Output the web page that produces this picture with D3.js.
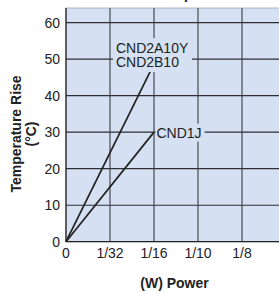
<!DOCTYPE html>
<html><head><meta charset="utf-8">
<script src="https://cdn.jsdelivr.net/npm/d3@7"></script>
<style>html,body{margin:0;padding:0;background:#fff}svg{display:block}</style>
</head><body>
<script>
// ---- data ----
const categories = ["0", "1/32", "1/16", "1/10", "1/8"];
const yTicks = [0, 10, 20, 30, 40, 50, 60];
const cnd2Names = ["CND2A10Y", "CND2B10"];
const cnd2X = [0, 1.93];   // position on category axis (index units)
const cnd2Y = [0, 47];
const cnd1Name = "CND1J";
const cnd1X = [0, 2];
const cnd1Y = [0, 30];

const W = 279, H = 292;
const m = {left: 66, top: 8, bottom: 241.7};
const svg = d3.select("body").append("svg").attr("width", W).attr("height", H);

const x = d3.scaleLinear().domain([0, 1]).range([m.left, m.left + 44]);
const y = d3.scaleLinear().domain([0, 64]).range([m.bottom, m.top]);
const bg = "#d5e1f2";
const font = "Arial, 'Liberation Sans', Helvetica, sans-serif";

// cut-off title descender (title lies above the visible area)
svg.append("text").attr("x", 184).attr("y", -1).attr("font-family", font)
  .attr("font-weight", "bold").attr("font-size", 14).attr("fill", "#222").text("p");

// plot background
svg.append("rect").attr("x", m.left).attr("y", m.top).attr("width", W - m.left + 5)
  .attr("height", m.bottom - m.top).attr("fill", bg).attr("stroke", "#9aa4b4").attr("stroke-width", 0.8);

const g = svg.append("g");
// horizontal grid
g.selectAll("line.h").data(yTicks.slice(1)).join("line")
  .attr("x1", m.left).attr("x2", W + 5)
  .attr("y1", d => y(d)).attr("y2", d => y(d))
  .attr("stroke", "#2e2e33").attr("stroke-width", 1.1);
// vertical grid
const vIdx = d3.range(1, 6);
g.selectAll("line.v").data(vIdx).join("line")
  .attr("x1", d => x(d)).attr("x2", d => x(d))
  .attr("y1", m.top).attr("y2", m.bottom)
  .attr("stroke", "#3a3d45").attr("stroke-width", 1.1);

// axes lines
svg.append("line").attr("x1", m.left).attr("x2", m.left).attr("y1", m.top).attr("y2", m.bottom)
  .attr("stroke", "#222").attr("stroke-width", 1.3);
svg.append("line").attr("x1", m.left).attr("x2", W + 5).attr("y1", m.bottom).attr("y2", m.bottom)
  .attr("stroke", "#222").attr("stroke-width", 1.3);

// y tick labels
svg.selectAll("text.yt").data(yTicks).join("text")
  .attr("x", m.left - 6).attr("y", d => y(d) + 5)
  .attr("text-anchor", "end").attr("font-family", font).attr("font-size", 14).attr("fill", "#222")
  .text(d => d);
// x tick labels
svg.selectAll("text.xt").data(categories).join("text")
  .attr("x", (d, i) => x(i)).attr("y", 257.5)
  .attr("text-anchor", "middle").attr("font-family", font).attr("font-size", 14).attr("fill", "#222")
  .text(d => d);

// axis titles
svg.append("text").attr("x", 174.5).attr("y", 288).attr("text-anchor", "middle")
  .attr("font-family", font).attr("font-weight", "bold").attr("font-size", 14).attr("fill", "#222")
  .text("(W) Power");
const yt = svg.append("text").attr("transform", "translate(21,134) rotate(-90)")
  .attr("text-anchor", "middle").attr("font-family", font).attr("font-weight", "bold")
  .attr("font-size", 14).attr("fill", "#222");
yt.append("tspan").attr("x", 0).attr("dy", 0).text("Temperature Rise");
yt.append("tspan").attr("x", 0).attr("dy", 14.5).text("(°C)");

// lines
const line = d3.line().x(d => x(d[0])).y(d => y(d[1]));
svg.append("path").datum(cnd2X.map((v, i) => [v, cnd2Y[i]])).attr("d", line)
  .attr("fill", "none").attr("stroke", "#222").attr("stroke-width", 1.7);
svg.append("path").datum(cnd1X.map((v, i) => [v, cnd1Y[i]])).attr("d", line)
  .attr("fill", "none").attr("stroke", "#222").attr("stroke-width", 1.7);

// labels with background boxes
const endA = [x(cnd2X[1]), y(cnd2Y[1])];
const labA = svg.append("g");
const boxA = labA.append("rect").attr("fill", bg);
const tA = labA.append("text").attr("font-family", font).attr("font-size", 14).attr("fill", "#222");
cnd2Names.forEach((n, i) => {
  tA.append("tspan").attr("x", endA[0] - 35).attr("y", endA[1] - 17 + i * 14).text(n);
});
const bbA = labA.node().getBBox();
boxA.attr("x", bbA.x - 3).attr("y", bbA.y - 2).attr("width", bbA.width + 6).attr("height", bbA.height + 4);

const endB = [x(cnd1X[1]), y(cnd1Y[1])];
const labB = svg.append("g");
const boxB = labB.append("rect").attr("fill", bg);
labB.append("text").attr("x", endB[0] + 2.5).attr("y", endB[1] + 5.5)
  .attr("font-family", font).attr("font-size", 14).attr("fill", "#222").text(cnd1Name);
const bbB = labB.node().getBBox();
boxB.attr("x", bbB.x - 1).attr("y", bbB.y - 1).attr("width", bbB.width + 4).attr("height", bbB.height + 2);
</script>
</body></html>
